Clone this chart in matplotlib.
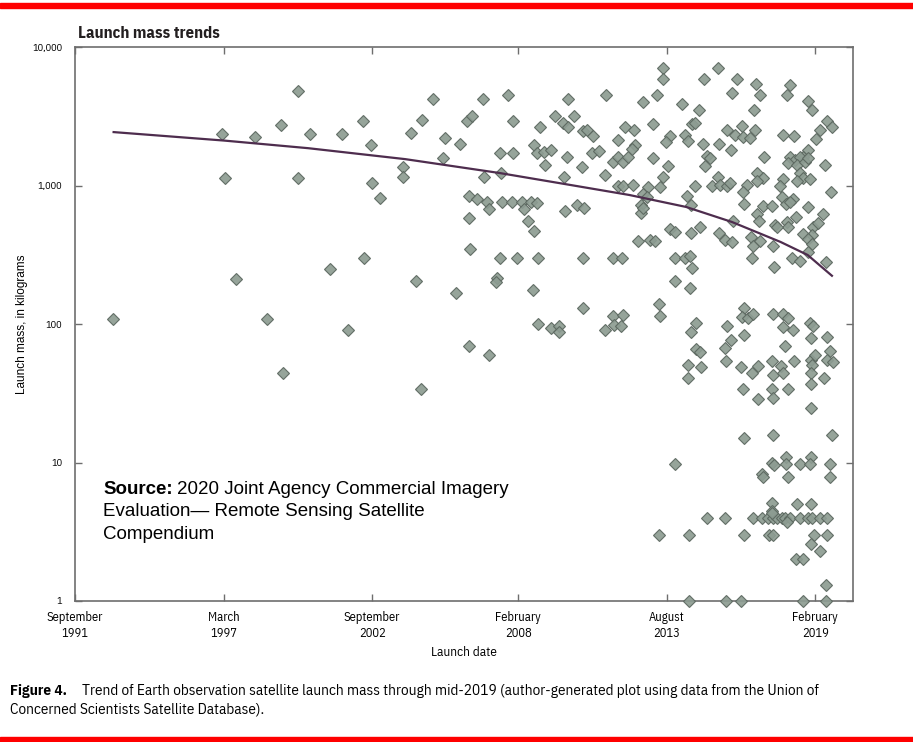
import matplotlib.pyplot as plt
from matplotlib.patches import Rectangle

# launch date as decimal year, launch mass in kg
launch_year = [
    1993.09, 1997.13, 1997.23, 1997.62, 1998.34, 1998.77, 1999.29, 1999.39, 1999.93, 1999.93,
    2000.36, 2001.11, 2001.57, 2001.79, 2002.35, 2002.37, 2002.62, 2002.66, 2002.98, 2003.81,
    2003.81,
    2004.94, 2006.77, 2007.70, 2009.94, 2011.34, 2004.53, 2004.10, 2006.18, 2006.36, 2007.90,
    2008.89, 2009.45, 2009.73, 2009.94, 2010.13, 2010.47, 2010.64, 2010.84, 2012.04, 2005.37,
    2005.93, 2011.79, 2008.67, 2007.41, 2007.90, 2008.79, 2009.04, 2009.30, 2009.90, 2010.83,
    2011.08, 2011.61, 2011.79, 2011.98, 2012.16, 2005.31, 2009.08, 2010.44, 2006.83, 2007.45,
    2009.78, 2011.30, 2011.76, 2011.96, 2006.27, 2006.57, 2006.94, 2007.01, 2007.50, 2007.84,
    2008.21, 2008.55, 2008.77, 2008.30, 2008.46, 2008.67, 2009.82, 2010.25, 2010.52, 2006.27,
    2006.30, 2007.41, 2008.03, 2008.83, 2010.47, 2011.61, 2011.92, 2004.29, 2005.78, 2007.29,
    2007.26, 2008.64, 2010.50, 2011.61, 2011.98, 2008.83, 2009.29, 2009.61, 2009.61, 2011.31,
    2011.63, 2011.88, 2006.26, 2007.01, 2004.47,
    2013.44, 2013.46, 2015.47, 2014.98, 2016.20, 2016.89, 2017.04, 2018.15, 2018.03, 2015.99,
    2013.21, 2012.72, 2014.14, 2018.83, 2018.96, 2014.76, 2016.82, 2012.37, 2013.09, 2014.51,
    2014.63, 2019.51, 2019.72, 2015.81, 2016.36, 2016.11, 2016.42, 2016.67, 2016.86, 2017.88,
    2018.30, 2019.26, 2019.11, 2013.71, 2013.56, 2014.26, 2014.38, 2014.92, 2015.52, 2015.97,
    2012.41, 2012.29, 2018.83, 2018.64, 2013.09, 2015.09, 2015.19, 2015.00, 2017.20, 2018.15,
    2018.34, 2018.52, 2018.09, 2018.40, 2018.71, 2018.83, 2019.45, 2013.64, 2013.46, 2013.34,
    2016.92, 2017.16, 2016.92, 2018.52, 2018.62, 2018.40, 2018.87, 2017.87, 2017.76, 2015.47,
    2015.25, 2015.56, 2015.81, 2015.93, 2012.35, 2014.63, 2012.90, 2016.55, 2016.42, 2019.66,
    2012.72, 2012.84, 2014.33, 2014.47, 2017.84, 2018.00, 2018.27, 2018.15, 2016.45, 2017.14,
    2017.47, 2018.83, 2012.62, 2012.62, 2012.70, 2016.94, 2017.01, 2018.37, 2019.36, 2018.03,
    2018.09, 2016.05, 2017.60, 2017.66, 2013.71, 2013.87, 2014.82, 2014.47, 2015.50, 2019.01,
    2018.96, 2019.20, 2018.64, 2018.83, 2018.96, 2016.70, 2017.04, 2016.77, 2015.74, 2015.99,
    2012.53, 2012.97, 2013.15, 2017.53, 2018.83, 2018.21, 2018.52, 2013.87, 2014.26, 2014.45,
    2014.51, 2016.73, 2017.56, 2019.48, 2013.89, 2014.45, 2013.31, 2013.34, 2016.45, 2016.36,
    2016.61, 2016.79, 2017.53, 2017.90, 2018.09, 2014.67, 2015.81, 2018.89, 2019.01,
    2014.48, 2015.97, 2015.74, 2015.78, 2016.45, 2017.90, 2018.27, 2017.97, 2018.92, 2019.51,
    2019.63, 2019.53, 2019.73, 2014.67, 2014.82, 2014.38, 2014.84, 2014.38, 2016.33, 2016.98,
    2016.73, 2017.47, 2017.81, 2017.53, 2017.88, 2018.30, 2018.92, 2019.08, 2018.96, 2018.92,
    2019.42, 2016.40, 2017.47, 2018.09, 2017.53, 2016.96, 2018.92, 2018.92, 2016.45, 2017.53,
    2019.71, 2013.87, 2017.47, 2017.56, 2018.00, 2018.00, 2018.52, 2018.92, 2018.89, 2019.63,
    2017.10, 2017.14, 2018.09, 2019.63, 2017.47, 2018.40, 2018.92,
    2015.09, 2015.74, 2016.77, 2017.10, 2017.35, 2017.53, 2017.66, 2017.84, 2017.97, 2018.15,
    2018.52, 2018.83, 2018.96, 2019.26, 2019.53, 2017.47, 2017.47, 2018.03,
    2013.30, 2014.42, 2016.45, 2017.38, 2017.51, 2019.04, 2019.53, 2018.92, 2019.24, 2018.36,
    2018.62, 2019.47, 2014.42, 2015.78, 2016.33, 2018.62, 2019.47,
]
launch_mass = [
    109, 2370, 1130, 213, 2230, 109, 2720, 44, 4850, 1130,
    2370, 248, 2370, 91, 2900, 300, 1960, 1040, 815, 1350,
    1160,
    4190, 4190, 4500, 4190, 4500, 2970, 2380, 2920, 3190, 2920,
    2660, 3190, 2840, 2660, 3190, 2480, 2520, 2280, 2630, 2210,
    1980, 2130, 1960, 1710, 1710, 1710, 1750, 1810, 1600, 1710,
    1780, 1490, 1600, 1490, 1600, 1570, 1410, 1350, 1160, 1230,
    1160, 1190, 997, 997, 844, 799, 764, 673, 757, 757,
    757, 757, 743, 673, 554, 469, 654, 723, 685, 580,
    346, 298, 298, 298, 298, 298, 298, 204, 167, 216,
    200, 176, 130, 114, 116, 100, 94, 97, 88, 91,
    98, 97, 69, 60, 34,
    7020, 5850, 7020, 5850, 5850, 5380, 4500, 5320, 4500, 4630,
    4500, 4030, 3870, 4090, 3510, 3510, 3510, 2520, 2780, 2780,
    2840, 2940, 2630, 2520, 2690, 2320, 2250, 2190, 2520, 2320,
    2280, 2520, 2160, 2280, 2070, 2320, 2110, 1980, 1980, 1810,
    1960, 1830, 1810, 1610, 1590, 1630, 1570, 1380, 1600, 1600,
    1530, 1600, 1450, 1410, 1490, 1570, 1410, 1390, 1150, 980,
    1240, 1130, 1070, 1230, 1130, 1070, 1110, 1110, 991, 1150,
    991, 1010, 991, 1040, 1010, 991, 980, 1010, 902, 902,
    868, 830, 840, 723, 830, 735, 795, 764, 735, 711,
    711, 703, 723, 630, 685, 623, 557, 595, 620, 548,
    504, 557, 518, 504, 483, 464, 504, 456, 456, 504,
    439, 539, 447, 409, 376, 427, 399, 366, 404, 393,
    397, 404, 397, 366, 333, 298, 285, 298, 298, 310,
    253, 298, 259, 282, 204, 183, 139, 114, 130, 113,
    110, 119, 119, 119, 110, 101, 97, 102, 96,
    88, 77, 67, 54, 83, 95, 90, 69, 79, 80,
    64, 55, 53, 66, 63, 51, 49, 40.5, 49, 50,
    44, 54, 50, 43, 44, 54, 55, 60, 51, 44,
    41, 34, 34, 34, 29, 28.6, 37, 24.6, 15, 15.8,
    15.8, 9.75, 9.9, 9.6, 10.9, 9.75, 9.75, 10.9, 9.75, 9.75,
    8.3, 7.8, 7.9, 7.9, 5.1, 5.0, 5.0,
    4, 4, 4, 4, 4, 4, 4, 4, 4, 4,
    4, 4, 4, 4, 4, 4.5, 4.3, 3.7,
    3, 3, 3, 3, 3, 3, 3, 2.6, 2.3, 2.0,
    2.0, 1.3, 1, 1, 1, 1, 1,
]

# trend line, read at several dates along the curve
trend_year = [1993.1, 1997.2, 2000.3, 2003.9, 2007.4, 2010.0, 2012.2, 2014.3, 2016.0, 2017.8, 2018.8, 2019.7]
trend_mass = [2430, 2110, 1860, 1550, 1230, 1010, 854, 700, 545, 391, 315, 223]

x_ticks = [1991.67, 1997.17, 2002.67, 2008.08, 2013.58, 2019.08]
x_labels = ["September\n1991", "March\n1997", "September\n2002", "February\n2008", "August\n2013", "February\n2019"]
y_ticks = [1, 10, 100, 1000, 10000]
y_labels = ["1", "10", "100", "1,000", "10,000"]

W, H = 913, 742
narrow = ["IBM Plex Sans Condensed", "DejaVu Sans"]
sans = ["Liberation Sans", "DejaVu Sans"]
axis_col = "#6e6e6e"

fig = plt.figure(figsize=(W / 100, H / 100), dpi=100)
ax = fig.add_axes([75 / W, 1 - 601 / H, (853 - 75) / W, (601 - 47) / H])

ax.plot(launch_year, launch_mass, linestyle="none", marker="D", ms=6.4,
        mfc="#8d9c92", mec="#5b675f", mew=0.8, alpha=0.92, clip_on=False, zorder=3)
ax.plot(trend_year, trend_mass, color="#4e2d4e", lw=1.6, zorder=4)

ax.set_yscale("log")
ax.set_ylim(1, 10000)
ax.set_xlim(1991.67, 2020.48)
ax.set_yticks(y_ticks)
ax.set_yticklabels(y_labels, family=narrow, fontsize=7.5)
ax.minorticks_off()
ax.set_xticks(x_ticks)
ax.set_xticklabels(x_labels, family=narrow, fontsize=9, linespacing=1.3)
ax.tick_params(direction="in", length=5, width=1, color=axis_col, top=True, right=True)
ax.tick_params(axis="y", pad=9)
ax.tick_params(axis="x", pad=7)
for s in ax.spines.values():
    s.set_color(axis_col)
    s.set_linewidth(1.2)

fig.text(78 / W, 1 - 38 / H, "Launch mass trends", family=narrow, fontsize=12,
         fontweight="bold", color="#231f20", va="baseline")
fig.text(22 / W, 1 - 324 / H, "Launch mass, in kilograms", family=sans, fontsize=8.5,
         rotation=90, ha="center", va="center")
fig.text(464 / W, 1 - 653 / H, "Launch date", family=narrow, fontsize=9.5,
         ha="center", va="center")

# source note inside the plot
fig.text(103 / W, 1 - 494 / H, "Source:", family=sans, fontsize=13.5, fontweight="bold", va="baseline")
fig.text(177 / W, 1 - 494 / H, "2020 Joint Agency Commercial Imagery", family=sans, fontsize=13.5, va="baseline")
fig.text(103 / W, 1 - 516.5 / H, "Evaluation\u2014 Remote Sensing Satellite", family=sans, fontsize=13.5, va="baseline")
fig.text(103 / W, 1 - 539 / H, "Compendium", family=sans, fontsize=13.5, va="baseline")

# figure caption
fig.text(10 / W, 1 - 695 / H, "Figure 4.", family=narrow, fontsize=11, fontweight="bold", va="baseline")
fig.text(82 / W, 1 - 695 / H,
         "Trend of Earth observation satellite launch mass through mid-2019 (author-generated plot using data from the Union of",
         family=narrow, fontsize=11, va="baseline")
fig.text(10 / W, 1 - 714 / H, "Concerned Scientists Satellite Database).",
         family=narrow, fontsize=11, va="baseline")

# red rules at top and bottom
fig.add_artist(Rectangle((0, 1 - 7.5 / H), 1, 4.5 / H, transform=fig.transFigure, color="#ff0000"))
fig.add_artist(Rectangle((0, 0), 1, 5.5 / H, transform=fig.transFigure, color="#ff0000"))

fig.savefig("out.png", dpi=100)
